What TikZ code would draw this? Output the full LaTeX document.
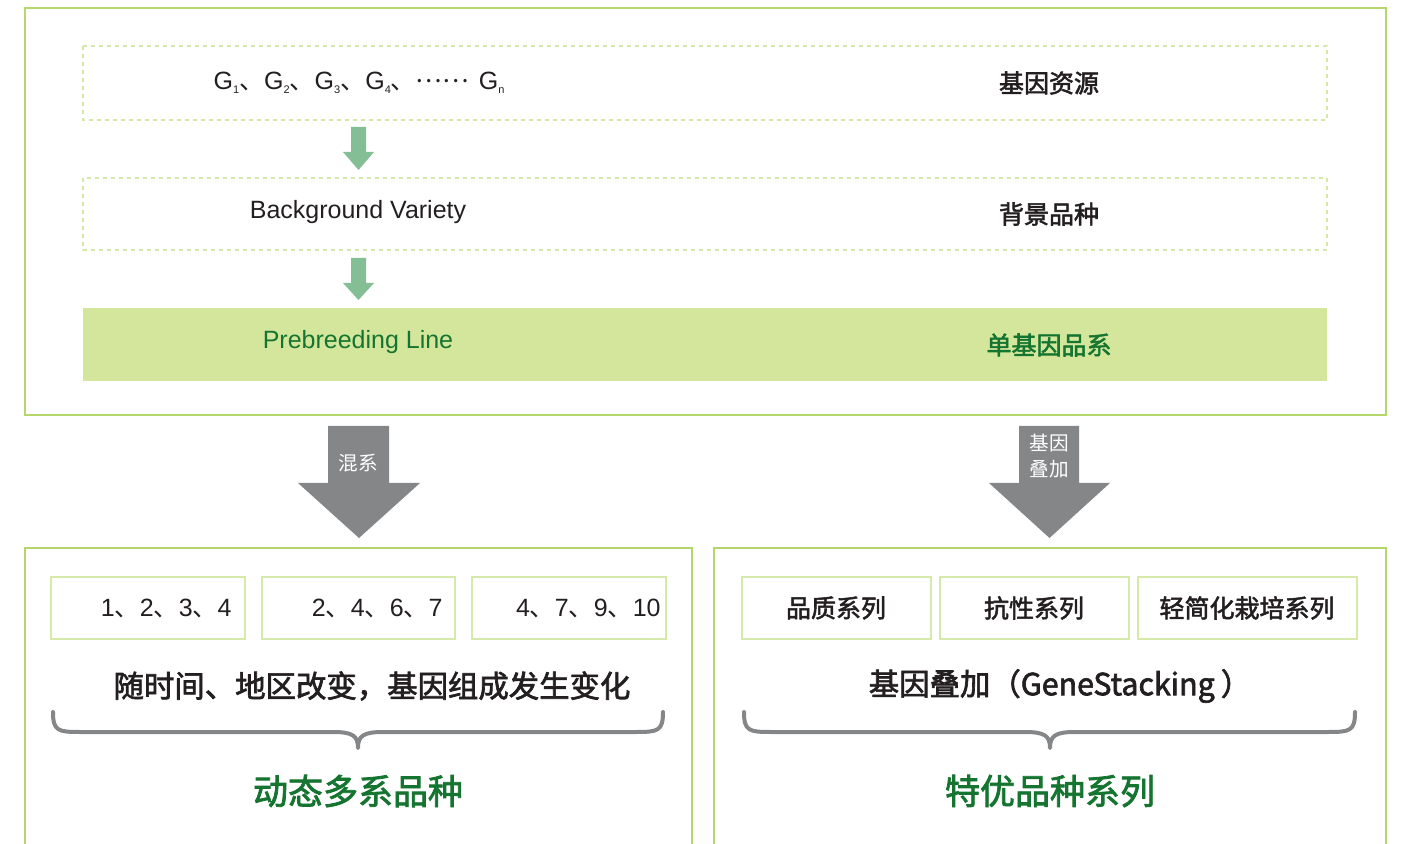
\documentclass[tikz,border=0pt]{standalone}
\usepackage{fontspec}
\setmainfont{Liberation Sans}
\newfontfamily\cjk{Noto Sans CJK SC}
\newfontfamily\cjkm[FakeBold=2.2]{Noto Sans CJK SC}
\definecolor{outerg}{HTML}{B4D66A}
\definecolor{dashg}{HTML}{D5E8A5}
\definecolor{fillg}{HTML}{D3E69B}
\definecolor{innerg}{HTML}{D5E9AB}
\definecolor{arrowg}{HTML}{84BE95}
\definecolor{grayc}{HTML}{858688}
\definecolor{darkg}{HTML}{157530}
\definecolor{darkt}{HTML}{231F20}
\newcommand{\gsub}[1]{G\raisebox{-1.8pt}{\fontsize{5.5}{6}\selectfont #1}}
\begin{document}
\begin{tikzpicture}[x=0.5pt,y=-0.5pt,
  outerbox/.style={draw=outerg,line width=1.25pt},
  dashbox/.style={draw=dashg,line width=0.8pt,dash pattern=on 2pt off 2pt},
  innerbox/.style={draw=innerg,line width=1pt},
  lat/.style={font=\fontsize{12.5}{15}\selectfont,text=darkt,inner sep=0pt},
  zh/.style={font=\cjkm\fontsize{12.5}{15}\selectfont,text=darkt,inner sep=0pt},
  zhbig/.style={font=\cjkm\fontsize{15.2}{18}\selectfont,text=darkt,inner sep=0pt},
  zhhead/.style={font=\cjkm\fontsize{17.5}{20}\selectfont,text=darkg,inner sep=0pt},
  arrtext/.style={font=\cjk\fontsize{9.8}{13}\selectfont,text=white,inner sep=0pt,align=center},
  brace/.style={draw=grayc,line width=2pt,line cap=round,line join=round}]
\useasboundingbox (0,0) rectangle (1403,844);
% top outer box
\draw[outerbox] (25,8) rectangle (1386,415);
% dashed rows
\draw[dashbox] (83,46) rectangle (1327,120);
\draw[dashbox] (83,178) rectangle (1327,250);
\fill[fillg] (83,308) rectangle (1327,381);
% small green arrows
\fill[arrowg] (351,127) -- (366,127) -- (366,152) -- (374,152) -- (358.5,170) -- (343,152) -- (351,152) -- cycle;
\fill[arrowg] (351,258) -- (366,258) -- (366,283) -- (374,283) -- (358.5,300) -- (343,283) -- (351,283) -- cycle;
% row texts
\node[lat] (genes) at (359,83) {\gsub{1}{\cjk 、}\gsub{2}{\cjk 、}\gsub{3}{\cjk 、}\gsub{4}{\cjk 、}\raisebox{3.5pt}{\cjk ……}\hspace{5pt}\gsub{n}};
\node[zh] (res) at (1049,83) {基因资源};
\node[lat] (bg) at (358,212) {Background Variety};
\node[zh] (bgzh) at (1049,214) {背景品种};
\node[lat,text=darkg] (pre) at (358,342) {Prebreeding Line};
\node[zh,text=darkg] (prezh) at (1049,345) {单基因品系};
% big gray arrows
\fill[grayc] (328,426) -- (389,426) -- (389,483) -- (420,483) -- (359,538) -- (298,483) -- (328,483) -- cycle;
\fill[grayc] (1019,426) -- (1079,426) -- (1079,483) -- (1110,483) -- (1049.5,538) -- (989,483) -- (1019,483) -- cycle;
\node[arrtext] (mix) at (358.5,463) {混系};
\node[arrtext] (stack) at (1049.5,456) {基因\\叠加};
% bottom boxes
\draw[outerbox] (25,846) -- (25,548) -- (692,548) -- (692,846);
\draw[outerbox] (714,846) -- (714,548) -- (1386,548) -- (1386,846);
% inner boxes left
\draw[innerbox] (51,577) rectangle (245,639);
\draw[innerbox] (262,577) rectangle (455,639);
\draw[innerbox] (472,577) rectangle (666,639);
\node[lat,anchor=east] (l1) at (232,608) {1{\cjk 、}2{\cjk 、}3{\cjk 、}4};
\node[lat,anchor=east] (l2) at (443,608) {2{\cjk 、}4{\cjk 、}6{\cjk 、}7};
\node[lat,anchor=east] (l3) at (661,608) {4{\cjk 、}7{\cjk 、}9{\cjk 、}10};
% inner boxes right
\draw[innerbox] (742,577) rectangle (931,639);
\draw[innerbox] (940,577) rectangle (1129,639);
\draw[innerbox] (1138,577) rectangle (1357,639);
\node[zh] (r1) at (836,608) {品质系列};
\node[zh] (r2) at (1034,608) {抗性系列};
\node[zh] (r3) at (1247,608) {轻简化栽培系列};
% descriptions
\node[zhbig] (dl) at (372,686) {随时间、地区改变，基因组成发生变化};
\node[zhbig] (dr) at (1060,686) {基因叠加（GeneStacking\hspace{3pt}）};
% braces
\draw[brace] (53,712) .. controls (53,731) and (58,732) .. (80,732) -- (333,732) .. controls (353,732) and (358,736) .. (358,748) .. controls (358,736) and (363,732) .. (383,732) -- (636,732) .. controls (658,732) and (663,731) .. (663,712);
\draw[brace] (744,712) .. controls (744,731) and (749,732) .. (771,732) -- (1025,732) .. controls (1045,732) and (1050,736) .. (1050,748) .. controls (1050,736) and (1055,732) .. (1075,732) -- (1328,732) .. controls (1350,732) and (1355,731) .. (1355,712);
% headings
\node[zhhead] (hl) at (358,791) {动态多系品种};
\node[zhhead] (hr) at (1050,791) {特优品种系列};
\end{tikzpicture}
\end{document}
